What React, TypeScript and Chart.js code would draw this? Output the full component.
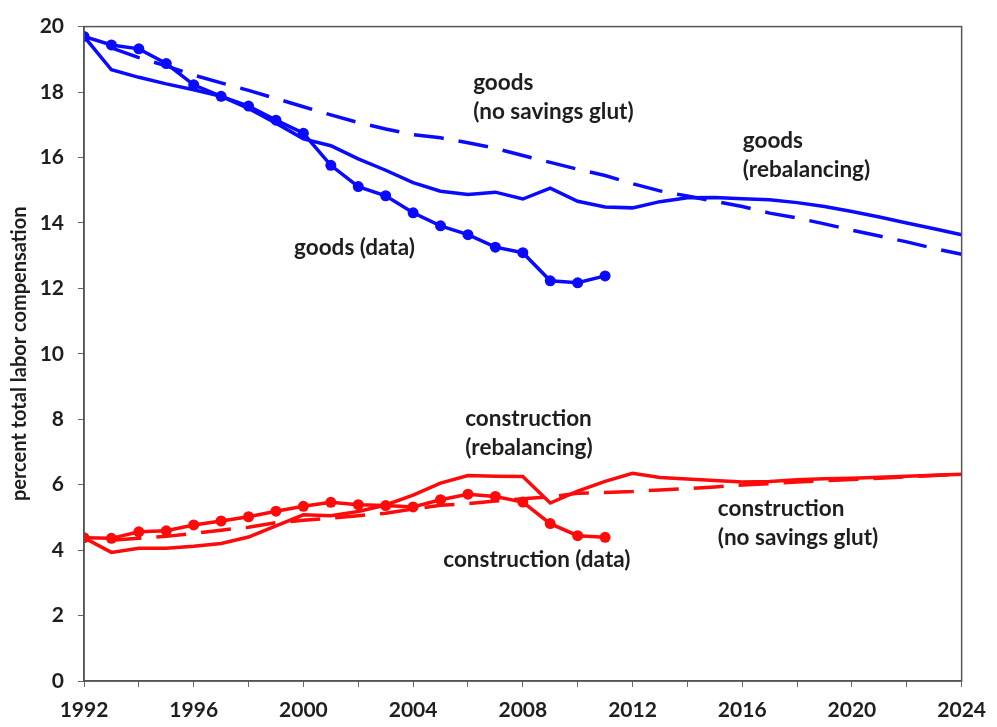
import React, { useEffect, useRef } from "react";
import { Chart, registerables } from "chart.js";

Chart.register(...registerables);

// ---- data ----
const dataYears = [1992, 1993, 1994, 1995, 1996, 1997, 1998, 1999, 2000, 2001, 2002, 2003, 2004, 2005, 2006, 2007, 2008, 2009, 2010, 2011];
const modelYears = [1992, 1993, 1994, 1995, 1996, 1997, 1998, 1999, 2000, 2001, 2002, 2003, 2004, 2005, 2006, 2007, 2008, 2009, 2010, 2011, 2012, 2013, 2014, 2015, 2016, 2017, 2018, 2019, 2020, 2021, 2022, 2023, 2024];
const noGlutYears = modelYears.slice(1);

const goodsData = [19.7, 19.44, 19.32, 18.87, 18.22, 17.87, 17.57, 17.14, 16.74, 15.76, 15.11, 14.83, 14.31, 13.91, 13.64, 13.26, 13.09, 12.23, 12.17, 12.38];
const goodsRebalancing = [19.7, 18.68, 18.45, 18.25, 18.07, 17.87, 17.5, 17.05, 16.57, 16.36, 15.96, 15.61, 15.23, 14.97, 14.87, 14.94, 14.73, 15.06, 14.66, 14.49, 14.46, 14.65, 14.77, 14.78, 14.74, 14.71, 14.62, 14.5, 14.35, 14.18, 14.0, 13.82, 13.64];
const goodsNoGlut = [19.35, 19.05, 18.8, 18.52, 18.28, 18.05, 17.8, 17.55, 17.3, 17.07, 16.87, 16.7, 16.6, 16.45, 16.28, 16.06, 15.85, 15.64, 15.45, 15.2, 14.98, 14.82, 14.66, 14.5, 14.3, 14.15, 13.97, 13.78, 13.6, 13.42, 13.22, 13.04];

const constrData = [4.38, 4.36, 4.56, 4.59, 4.77, 4.89, 5.02, 5.19, 5.34, 5.46, 5.39, 5.36, 5.32, 5.54, 5.71, 5.64, 5.47, 4.81, 4.44, 4.39];
const constrRebalancing = [4.38, 3.93, 4.06, 4.06, 4.12, 4.2, 4.4, 4.74, 5.08, 5.05, 5.18, 5.38, 5.68, 6.05, 6.28, 6.26, 6.25, 5.44, 5.8, 6.1, 6.35, 6.22, 6.17, 6.13, 6.08, 6.1, 6.15, 6.18, 6.2, 6.23, 6.26, 6.29, 6.32];
const constrNoGlut = [4.3, 4.36, 4.42, 4.51, 4.61, 4.7, 4.84, 4.91, 4.98, 5.05, 5.13, 5.26, 5.37, 5.42, 5.5, 5.57, 5.63, 5.74, 5.76, 5.79, 5.84, 5.88, 5.93, 5.99, 6.03, 6.08, 6.12, 6.16, 6.2, 6.24, 6.28, 6.32];

const xTickLabels = ["1992", "1996", "2000", "2004", "2008", "2012", "2016", "2020", "2024"];
const yTickLabels = ["0", "2", "4", "6", "8", "10", "12", "14", "16", "18", "20"];
const yTitle = "percent total labor compensation";

// annotation texts, anchored in data coordinates (year, value)
const annoText = [
  ["goods", "(no savings glut)"],
  ["goods", "(rebalancing)"],
  ["goods (data)"],
  ["construction", "(rebalancing)"],
  ["construction", "(no savings glut)"],
  ["construction (data)"],
];
const annoYear = [2006.19, 2016.02, 1999.66, 2005.9, 2015.11, 2005.1];
const annoValue = [18.28, 16.52, 13.25, 8.0, 5.26, 3.7];

const BLUE = "#0a0aff";
const RED = "#ff0a0a";
const TEXT = "#1e1e1e";
const FONT = "Lato";

const pts = (xs: number[], ys: number[]) => ys.map((y, i) => ({ x: xs[i], y }));

const framePlugin = {
  id: "frame",
  afterDatasetsDraw(chart: any) {
    const { ctx, chartArea: a, scales } = chart;
    ctx.save();
    ctx.strokeStyle = "#555";
    ctx.lineWidth = 1.5;
    ctx.strokeRect(a.left, a.top, a.right - a.left, a.bottom - a.top);
    // annotations
    ctx.fillStyle = TEXT;
    ctx.font = `bold 22.5px ${FONT}`;
    ctx.textAlign = "left";
    ctx.textBaseline = "middle";
    annoText.forEach((lines, i) => {
      const x = scales.x.getPixelForValue(annoYear[i]);
      const y = scales.y.getPixelForValue(annoValue[i]);
      lines.forEach((t, j) => ctx.fillText(t, x, y + j * 29));
    });
    // y title
    ctx.translate(20, (a.top + a.bottom) / 2);
    ctx.rotate(-Math.PI / 2);
    ctx.textAlign = "center";
    ctx.font = `bold 20px ${FONT}`;
    ctx.fillText(yTitle, 0, 0);
    ctx.restore();
  },
};

export default function App() {
  const ref = useRef<HTMLCanvasElement | null>(null);
  useEffect(() => {
    if (!ref.current) return;
    const solid = (data: any[], color: string, markers: boolean) => ({
      data,
      borderColor: color,
      backgroundColor: color,
      borderWidth: 3.5,
      pointRadius: markers ? 5.5 : 0,
      pointBorderWidth: 0,
      pointBackgroundColor: color,
      tension: 0,
      fill: false,
    });
    const dashed = (data: any[], color: string) => ({
      ...solid(data, color, false),
      borderDash: [30, 15],
    });
    const chart = new Chart(ref.current, {
      type: "line",
      data: {
        datasets: [
          dashed(pts(noGlutYears, goodsNoGlut), BLUE),
          solid(pts(modelYears, goodsRebalancing), BLUE, false),
          solid(pts(dataYears, goodsData), BLUE, true),
          dashed(pts(noGlutYears, constrNoGlut), RED),
          solid(pts(modelYears, constrRebalancing), RED, false),
          solid(pts(dataYears, constrData), RED, true),
        ] as any,
      },
      options: {
        animation: false,
        responsive: false,
        devicePixelRatio: 1,
        layout: { padding: { left: 0, right: 31, top: 16, bottom: 0 } },
        plugins: { legend: { display: false }, tooltip: { enabled: false } },
        scales: {
          x: {
            type: "linear",
            min: 1992,
            max: 2024,
            afterFit: (s: any) => { s.height = 46; },
            ticks: {
              stepSize: 2,
              autoSkip: false,
              maxRotation: 0,
              padding: 11,
              color: TEXT,
              font: { family: FONT, size: 21, weight: "bold" },
              callback: (v: any) => (xTickLabels.includes(String(v)) ? String(v) : ""),
            },
            grid: { display: true, drawOnChartArea: false, drawTicks: true, tickLength: 6, color: "#666" },
            border: { display: true, color: "#555", width: 1.5 },
          },
          y: {
            min: 0,
            max: 20,
            afterFit: (s: any) => { s.width = 84; },
            ticks: {
              stepSize: 2,
              padding: 14,
              color: TEXT,
              font: { family: FONT, size: 21, weight: "bold" },
              callback: (v: any) => (yTickLabels.includes(String(v)) ? String(v) : ""),
            },
            grid: { display: true, drawOnChartArea: false, drawTicks: true, tickLength: 6, color: "#666" },
            border: { display: true, color: "#555", width: 1.5 },
          },
        },
      },
      plugins: [framePlugin],
    } as any);
    return () => chart.destroy();
  }, []);
  return (
    <div style={{ position: "absolute", left: 0, top: 0, width: 997, height: 727, background: "#fff" }}>
      <canvas ref={ref} width={997} height={727} style={{ width: 997, height: 727, display: "block" }} />
    </div>
  );
}
